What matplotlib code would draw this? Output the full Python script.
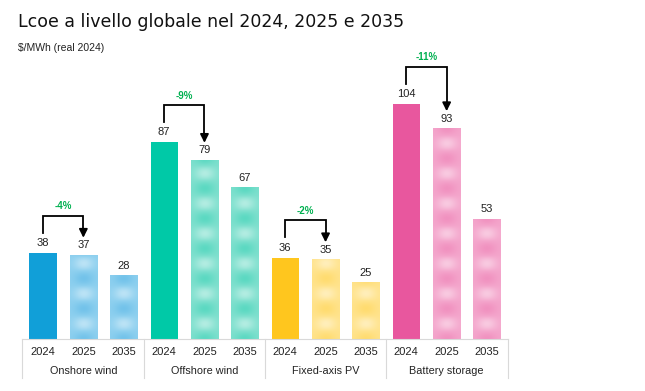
import numpy as np
import matplotlib
matplotlib.use("Agg")
import matplotlib.pyplot as plt
from matplotlib.colors import to_rgb
from matplotlib.transforms import blended_transform_factory

# ---- data ----
groups = ["Onshore wind", "Offshore wind", "Fixed-axis PV", "Battery storage"]
years = ["2024", "2025", "2035"]
onshore = [38, 37, 28]
offshore = [87, 79, 67]
pv = [36, 35, 25]
battery = [104, 93, 53]
changes = ["-4%", "-9%", "-2%", "-11%"]
series = [onshore, offshore, pv, battery]

dark_colors = ["#119FD8", "#00C9A7", "#FFC61E", "#E8579E"]
light_colors = ["#8ED0EF", "#7FE0CE", "#FFE38C", "#F4A6CC"]
spot_colors = ["#5DB8E6", "#3FD3B8", "#FFD65A", "#EE82B6"]

W, H = 645, 391
fig = plt.figure(figsize=(W / 100, H / 100), dpi=100)
fig.patch.set_facecolor("white")

ax_left, ax_right = 22, 508
ax_top, ax_bot = 40, 339
ax = fig.add_axes([ax_left / W, (H - ax_bot) / H, (ax_right - ax_left) / W, (ax_bot - ax_top) / H])
ymax = (ax_bot - ax_top) / 2.26
ax.set_xlim(-0.52, 11.52)
ax.set_ylim(0, ymax)
for s in ["top", "right", "left"]:
    ax.spines[s].set_visible(False)
ax.spines["bottom"].set_color("#D9D9D9")
ax.spines["bottom"].set_linewidth(0.8)
ax.set_xticks([])
ax.set_yticks([])

bw = 0.67
px_per_unit = 2.26

def patterned_bar(x, h, light, spot):
    hp = max(int(h * px_per_unit), 2)
    nx = 40
    ny = hp * 2
    yy = np.linspace(0, hp, ny)[:, None]
    xx = np.linspace(-1, 1, nx)[None, :]
    P = 30.0
    f = np.cos(2 * np.pi * yy / P) * np.exp(-(xx / 0.7) ** 2)
    base = np.array(to_rgb(light))
    sp = np.array(to_rgb(spot))
    white = np.ones(3)
    pos = np.clip(f, 0, 1)[..., None]
    neg = np.clip(-f, 0, 1)[..., None]
    img = np.empty((ny, nx, 3))
    img[:] = base
    img = img * (1 - 0.55 * pos) + sp * 0.55 * pos
    img = img * (1 - 0.4 * neg) + white * 0.4 * neg
    ax.imshow(img, extent=(x - bw / 2, x + bw / 2, 0, h), origin="lower",
              aspect="auto", interpolation="bilinear", zorder=2)

trans_lbl = blended_transform_factory(ax.transData, ax.transAxes)
axes_h_px = ax_bot - ax_top

for g, vals in enumerate(series):
    for i, v in enumerate(vals):
        x = g * 3 + i
        if i == 0:
            ax.bar(x, v, width=bw, color=dark_colors[g], zorder=2)
        else:
            patterned_bar(x, v, light_colors[g], spot_colors[g])
        ax.text(x, v + 2.2, str(v), ha="center", va="bottom", fontsize=8,
                family="Liberation Sans", color="#222222")
        ax.text(x, -(352 - ax_bot) / axes_h_px, years[i], ha="center", va="center",
                fontsize=8, family="Liberation Sans", color="#222222",
                transform=trans_lbl)
    ax.text(g * 3 + 1, -(371 - ax_bot) / axes_h_px, groups[g], ha="center", va="center",
            fontsize=7.8, family="Liberation Sans", color="#222222", transform=trans_lbl)
    # bracket
    x0, x1 = g * 3, g * 3 + 1
    top = vals[0] + 16.5
    left_end = vals[0] + 9
    tip = vals[1] + 7.8
    ax.plot([x0, x0, x1, x1], [left_end, top, top, tip + 3], color="black", lw=1.3,
            solid_joinstyle="miter", zorder=3)
    ax.annotate("", xy=(x1, tip), xytext=(x1, tip + 3.5),
                arrowprops=dict(arrowstyle="-|>,head_length=0.5,head_width=0.25",
                                color="black", lw=1.3, shrinkA=0, shrinkB=0), zorder=3)
    ax.text((x0 + x1) / 2, top + 2.0, changes[g], ha="center", va="bottom",
            fontsize=7, fontweight="bold", family="Liberation Sans", color="#00B050")

# separators
for xs in [-0.52, 2.5, 5.5, 8.5, 11.52]:
    ax.plot([xs, xs], [0, -(378 - ax_bot) / axes_h_px], color="#D9D9D9", lw=0.8,
            transform=trans_lbl, clip_on=False)

fig.text(18 / W, 1 - 22 / H, "Lcoe a livello globale nel 2024, 2025 e 2035",
         fontsize=12.5, family="DejaVu Sans", color="#111111", va="center", ha="left")
fig.text(18 / W, 1 - 48 / H, "$/MWh (real 2024)", fontsize=7.5,
         family="Liberation Sans", color="#222222", va="center", ha="left")

fig.savefig("out.png", dpi=100)
